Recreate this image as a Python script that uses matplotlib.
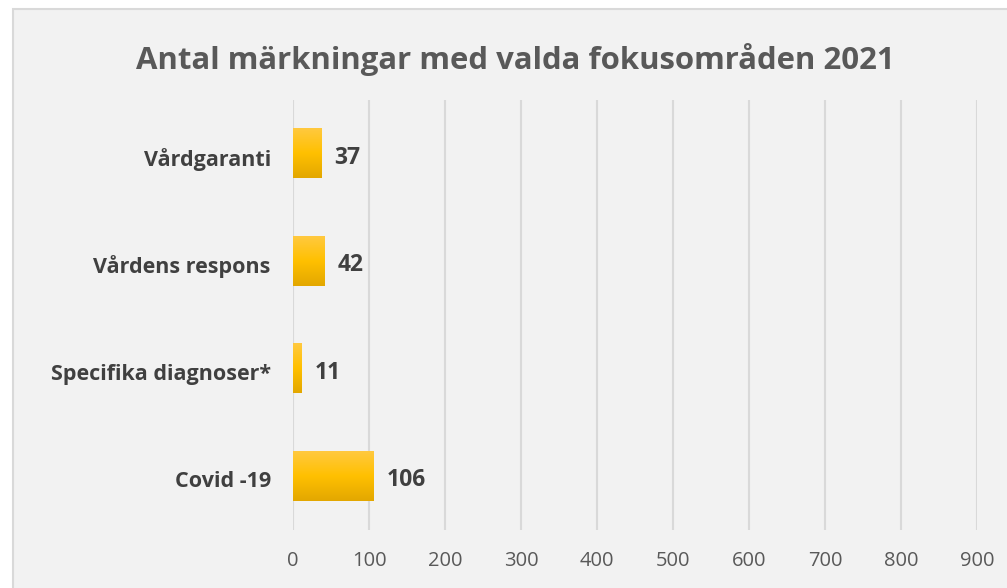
import numpy as np
import matplotlib.pyplot as plt
import matplotlib.transforms as mtransforms
from matplotlib.patches import Rectangle
from matplotlib.colors import LinearSegmentedColormap

categories = ['Covid -19', 'Specifika diagnoser*', 'Vårdens respons', 'Vårdgaranti']
values = [106, 11, 42, 37]
xticks = [0, 100, 200, 300, 400, 500, 600, 700, 800, 900]

plt.rcParams['font.family'] = ['Open Sans', 'DejaVu Sans']

fig = plt.figure(figsize=(10.07, 5.88), dpi=100)
fig.patch.set_facecolor('white')
# chart area frame (cut off at right and bottom)
fig.patches.append(Rectangle((13 / 1007, -0.1), 1.2, 1 - 9 / 588 + 0.1, transform=fig.transFigure,
                             facecolor='#F2F2F2', edgecolor='#D9D9D9', linewidth=1.5, zorder=-5))

ax = fig.add_axes([293 / 1007, 1 - 530 / 588, (977 - 293) / 1007, (530 - 100) / 588])
ax.set_facecolor('none')
ax.set_zorder(2)

y = np.arange(len(categories))
bars = ax.barh(y, values, height=0.46, color='#FFC000', zorder=2)

cmap = LinearSegmentedColormap.from_list('gold', ['#E3A700', '#FFC000', '#FFC93F'])
grad = np.linspace(0, 1, 100).reshape(-1, 1)
for b in bars:
    x0, y0, w, h = b.get_x(), b.get_y(), b.get_width(), b.get_height()
    ax.imshow(grad, extent=[x0, x0 + w, y0, y0 + h], origin='lower', cmap=cmap,
              aspect='auto', zorder=3)
    ax.text(x0 + w + 17, y0 + h / 2 - 0.035, str(int(w)), va='center', ha='left',
            fontsize=16.5, fontweight='bold', color='#404040')

ax.set_xlim(0, 900)
ax.set_ylim(-0.5, len(categories) - 0.5)
ax.set_xticks(xticks)
ax.set_xticklabels([str(t) for t in xticks], fontsize=14.5, color='#595959')
ax.set_yticks(y)
ax.set_yticklabels(categories, fontsize=15.5, fontweight='bold', color='#404040')
ax.tick_params(axis='both', length=0)
ax.tick_params(axis='x', pad=15)
ax.tick_params(axis='y', pad=16)
ax.grid(axis='x', color='#D9D9D9', linewidth=1.5, zorder=1)
ax.set_axisbelow(True)
for s in ax.spines.values():
    s.set_visible(False)

shift = mtransforms.ScaledTranslation(0, -3 / 100, fig.dpi_scale_trans)
for lbl in ax.get_yticklabels():
    lbl.set_transform(lbl.get_transform() + shift)

fig.text(515 / 1007, 1 - 60 / 588, 'Antal märkningar med valda fokusområden 2021',
         ha='center', va='center', fontsize=22.4, fontweight='bold', color='#595959')

fig.savefig('out.png', dpi=100)
